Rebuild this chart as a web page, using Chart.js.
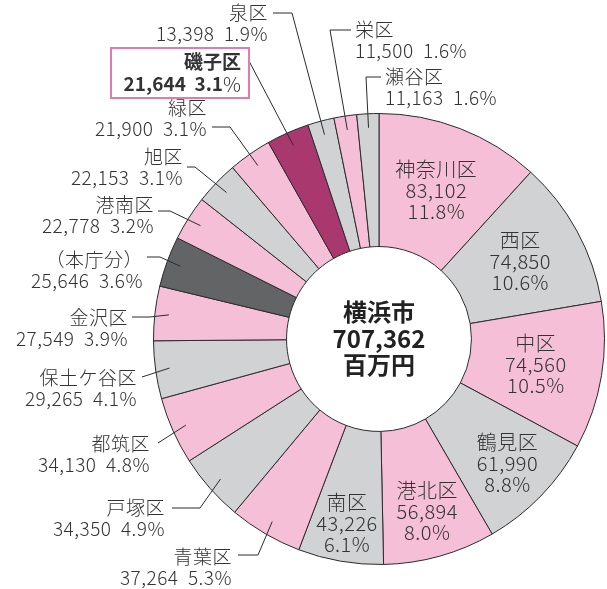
<!DOCTYPE html>
<html>
<head>
<meta charset="utf-8">
<script src="https://cdn.jsdelivr.net/npm/chart.js@4"></script>
<style>
  html, body { margin: 0; padding: 0; background: #fff; }
  #wrap { width: 607px; height: 589px; }
</style>
</head>
<body>
<div id="wrap"><canvas id="budget" width="607" height="589"></canvas></div>
<script>
// 区別の予算額（百万円）と構成比（%）
const districts = ["神奈川区", "西区", "中区", "鶴見区", "港北区", "南区", "青葉区", "戸塚区", "都筑区",
  "保土ケ谷区", "金沢区", "（本庁分）", "港南区", "旭区", "緑区", "磯子区", "泉区", "栄区", "瀬谷区"];
const budgets = [83102, 74850, 74560, 61990, 56894, 43226, 37264, 34350, 34130,
  29265, 27549, 25646, 22778, 22153, 21900, 21644, 13398, 11500, 11163];
const shares = [11.8, 10.6, 10.5, 8.8, 8.0, 6.1, 5.3, 4.9, 4.8,
  4.1, 3.9, 3.6, 3.2, 3.1, 3.1, 3.1, 1.9, 1.6, 1.6];
const cityName = "横浜市";
const cityTotal = 707362;
const cityUnit = "百万円";
const highlight = "磯子区";

const PINK = "#f6bfd8";
const GRAY = "#d1d2d4";
const DARK = "#636466";
const MAGENTA = "#a9386f";
const TEXT = "#333";
const FONT = "'Noto Sans CJK JP', 'Noto Sans', sans-serif";

const sliceColors = [PINK, GRAY, PINK, GRAY, PINK, GRAY, PINK, GRAY, PINK,
  GRAY, PINK, DARK, PINK, GRAY, PINK, MAGENTA, GRAY, PINK, GRAY];

// first slices are big enough to carry their label inside the ring;
// lower ones are pushed a little outward from mid-ring
const insideCount = 6;
const insideShift = [0, 2, 0, 20, 20, 28];

// outside labels: text anchor, leader start and optional elbow
const outside = {
  6:  { x: 232, y: 557, align: "right", from: [238, 555], elbow: [258, 555] },
  7:  { x: 165, y: 508, align: "right", from: [172, 508], elbow: [200, 508] },
  8:  { x: 150, y: 444, align: "right", from: [158, 443] },
  9:  { x: 137, y: 378, align: "right", from: [142, 377] },
  10: { x: 128, y: 318, align: "right", from: [132, 317], elbow: [150, 317] },
  11: { x: 143, y: 260, align: "right", from: [147, 257], elbow: [160, 257] },
  12: { x: 154, y: 205, align: "right", from: [158, 211], elbow: [170, 211] },
  13: { x: 183, y: 157, align: "right", from: [187, 167], elbow: [195, 167] },
  14: { x: 207, y: 108, align: "right", from: [212, 127], elbow: [230, 127] },
  15: { x: 241, y: 62, align: "right", from: [249, 61], box: [111, 48, 138, 50] },
  16: { x: 268, y: 13, align: "right", from: [273, 13], elbow: [292, 13] },
  17: { x: 355, y: 30, align: "left", from: [351, 30], elbow: [330, 30] },
  18: { x: 385, y: 77, align: "left", from: [381, 77], elbow: [366, 77] }
};

const fmt = n => n.toLocaleString("en-US");

const ringLabels = {
  id: "ringLabels",
  afterDatasetsDraw(chart) {
    const ctx = chart.ctx;
    const arcs = chart.getDatasetMeta(0).data;
    ctx.save();
    ctx.fillStyle = TEXT;
    ctx.strokeStyle = "#2b2b2b";
    ctx.lineWidth = 1;
    ctx.textBaseline = "middle";
    let cx = 0, cy = 0;
    arcs.forEach((arc, i) => {
      const p = arc.getProps(["x", "y", "startAngle", "endAngle", "innerRadius", "outerRadius"], true);
      cx = p.x; cy = p.y;
      const mid = (p.startAngle + p.endAngle) / 2;
      ctx.letterSpacing = "0.5px";
      if (i < insideCount) {
        const r = (p.innerRadius + p.outerRadius) / 2 + insideShift[i];
        const lx = p.x + Math.cos(mid) * r;
        const ly = p.y + Math.sin(mid) * r;
        ctx.font = "300 20px " + FONT;
        ctx.textAlign = "center";
        ctx.fillText(districts[i], lx, ly - 21);
        ctx.fillText(fmt(budgets[i]), lx, ly);
        ctx.fillText(shares[i].toFixed(1) + "%", lx, ly + 21);
        return;
      }
      const lay = outside[i];
      if (!lay) return;
      const r = p.outerRadius - 14;
      const ex = p.x + Math.cos(mid) * r;
      const ey = p.y + Math.sin(mid) * r;
      ctx.beginPath();
      ctx.moveTo(lay.from[0], lay.from[1]);
      if (lay.elbow) ctx.lineTo(lay.elbow[0], lay.elbow[1]);
      ctx.lineTo(ex, ey);
      ctx.stroke();

      ctx.textAlign = lay.align;
      if (districts[i] === highlight) {
        const [bx, by, bw, bh] = lay.box;
        ctx.save();
        ctx.strokeStyle = "#e27bad";
        ctx.lineWidth = 2;
        ctx.strokeRect(bx, by, bw, bh);
        ctx.restore();
        ctx.letterSpacing = "0px";
        ctx.font = "bold 19px " + FONT;
        ctx.fillText(districts[i], lay.x, lay.y);
        ctx.font = "300 20px " + FONT;
        const pw = ctx.measureText("%").width;
        ctx.fillText("%", lay.x, lay.y + 22);
        ctx.font = "bold 19px " + FONT;
        ctx.fillText(fmt(budgets[i]) + "  " + shares[i].toFixed(1), lay.x - pw, lay.y + 22);
      } else {
        ctx.font = "300 19px " + FONT;
        ctx.fillText(districts[i], lay.x, lay.y);
        ctx.fillText(fmt(budgets[i]) + "  " + shares[i].toFixed(1) + "%", lay.x, lay.y + 21);
      }
    });

    // city total in the hole
    ctx.letterSpacing = "0px";
    ctx.textAlign = "center";
    ctx.fillStyle = "#222";
    ctx.font = "bold 24px " + FONT;
    ctx.fillText(cityName, cx, cy - 27);
    ctx.fillText(fmt(cityTotal), cx, cy);
    ctx.fillText(cityUnit, cx, cy + 26);
    ctx.restore();
  }
};

new Chart(document.getElementById("budget"), {
  type: "doughnut",
  data: {
    labels: districts,
    datasets: [{
      data: budgets,
      backgroundColor: sliceColors,
      borderColor: "#2b2b2b",
      borderWidth: 1
    }]
  },
  options: {
    responsive: false,
    animation: false,
    cutout: "41%",
    layout: { padding: { left: 153, right: 2, top: 113, bottom: 24 } },
    plugins: {
      legend: { display: false },
      tooltip: { enabled: false }
    }
  },
  plugins: [ringLabels]
});
</script>
</body>
</html>
